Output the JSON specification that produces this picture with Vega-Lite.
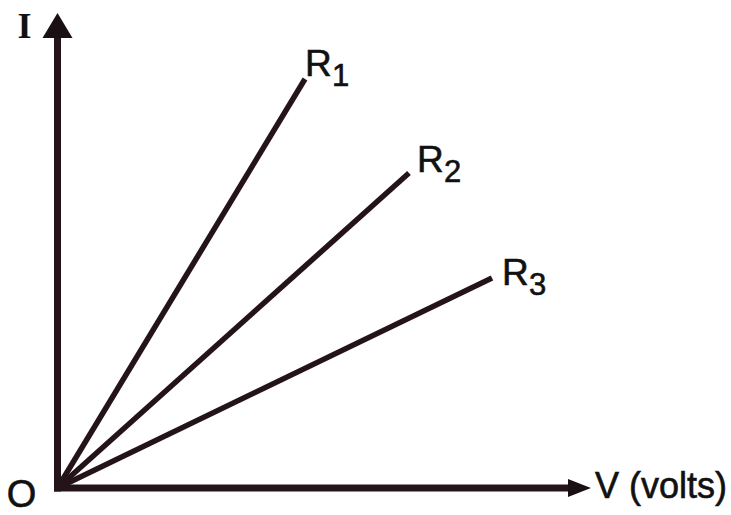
{
  "$schema": "https://vega.github.io/schema/vega-lite/v6.json",
  "width": 731,
  "height": 515,
  "padding": 0,
  "autosize": {"type": "fit", "contains": "padding"},
  "background": "white",
  "config": {"view": {"stroke": null}},
  "datasets": {
    "lines": [
      {"name": "R1", "V": 0, "I": 0},
      {"name": "R1", "V": 4.95, "I": 8.18},
      {"name": "R2", "V": 0, "I": 0},
      {"name": "R2", "V": 7.03, "I": 6.3},
      {"name": "R3", "V": 0, "I": 0},
      {"name": "R3", "V": 8.69, "I": 4.2}
    ],
    "labels": [
      {"main": "R", "sub": "1", "V": 4.95, "I": 8.24},
      {"main": "R", "sub": "2", "V": 7.19, "I": 6.32},
      {"main": "R", "sub": "3", "V": 8.89, "I": 4.06}
    ],
    "axes": [
      {"axis": "I", "V": 0, "V2": 0, "I": 0, "I2": 9.0},
      {"axis": "V", "V": 0, "V2": 10.21, "I": 0, "I2": 0}
    ]
  },
  "encoding": {
    "x": {"field": "V", "type": "quantitative", "axis": null,
          "scale": {"domain": [-1.15, 13.47], "nice": false, "zero": false}},
    "y": {"field": "I", "type": "quantitative", "axis": null,
          "scale": {"domain": [-0.54, 9.76], "nice": false, "zero": false}}
  },
  "layer": [
    {
      "data": {"name": "axes"},
      "mark": {"type": "rule", "color": "#24141a", "strokeWidth": 7, "strokeCap": "square"},
      "encoding": {
        "x2": {"field": "V2"},
        "y2": {"field": "I2"}
      }
    },
    {
      "data": {"name": "lines"},
      "mark": {"type": "line", "color": "#24141a", "strokeWidth": 5.5, "strokeCap": "butt"},
      "encoding": {
        "detail": {"field": "name", "type": "nominal"}
      }
    },
    {
      "data": {"values": [{"V": 0, "I": 9.25}]},
      "mark": {"type": "point", "shape": "M0,-1L1.2,1L-1.2,1Z", "size": 625, "filled": true, "opacity": 1, "color": "#1a1014", "strokeWidth": 0}
    },
    {
      "data": {"values": [{"V": 10.44, "I": 0}]},
      "mark": {"type": "point", "shape": "M1,0L-1,-0.78L-1,0.78Z", "size": 529, "filled": true, "opacity": 1, "color": "#1a1014", "strokeWidth": 0}
    },
    {
      "data": {"name": "labels"},
      "mark": {"type": "text", "align": "left", "baseline": "alphabetic", "font": "Liberation Sans", "fontSize": 37, "color": "#111111", "stroke": "#111111", "strokeWidth": 0.6},
      "encoding": {"text": {"field": "main"}}
    },
    {
      "data": {"name": "labels"},
      "mark": {"type": "text", "align": "left", "baseline": "alphabetic", "font": "Liberation Sans", "fontSize": 31, "dx": 27, "dy": 10, "color": "#111111", "stroke": "#111111", "strokeWidth": 0.6},
      "encoding": {"text": {"field": "sub"}}
    },
    {
      "data": {"values": [{"t": "I", "V": -0.66, "I": 9.0}]},
      "mark": {"type": "text", "align": "center", "baseline": "alphabetic", "font": "Liberation Serif", "fontWeight": "bold", "fontSize": 36, "color": "#111111"},
      "encoding": {"text": {"field": "t"}}
    },
    {
      "data": {"values": [{"t": "O", "V": -0.72, "I": -0.38}]},
      "mark": {"type": "text", "align": "center", "baseline": "alphabetic", "font": "Liberation Sans", "fontSize": 38, "color": "#111111", "stroke": "#111111", "strokeWidth": 0.6},
      "encoding": {"text": {"field": "t"}}
    },
    {
      "data": {"values": [{"t": "V (volts)", "V": 10.75, "I": -0.2}]},
      "mark": {"type": "text", "align": "left", "baseline": "alphabetic", "font": "Liberation Sans", "fontSize": 36, "color": "#111111", "stroke": "#111111", "strokeWidth": 0.6},
      "encoding": {"text": {"field": "t"}}
    }
  ]
}
